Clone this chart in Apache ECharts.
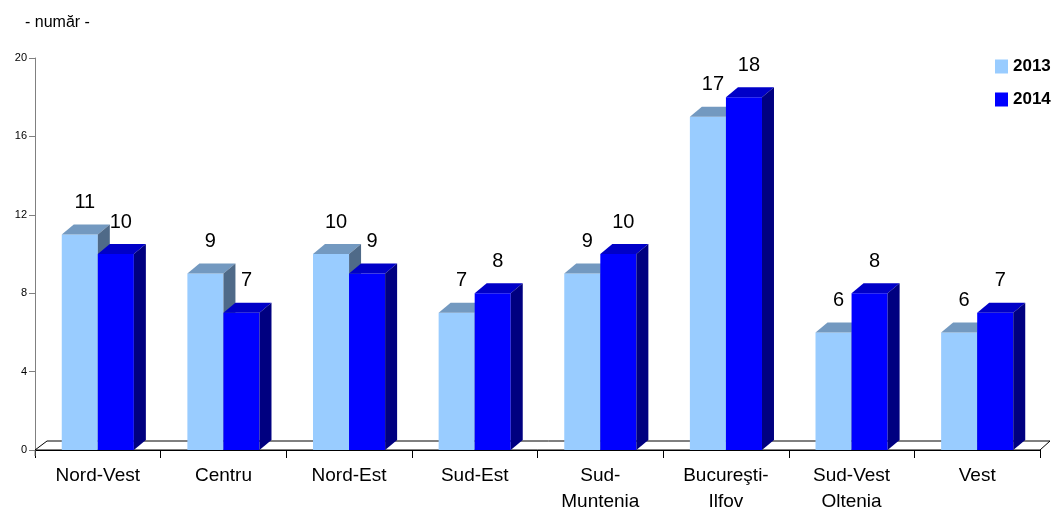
<!DOCTYPE html>
<html><head><meta charset="utf-8">
<script src="https://cdn.jsdelivr.net/npm/echarts@6/dist/echarts.min.js"></script>
<style>html,body{margin:0;padding:0;background:#fff}#c{width:1063px;height:510px}</style>
</head><body><div id="c"></div>
<script>
const categories = ['Nord-Vest','Centru','Nord-Est','Sud-Est','Sud-\nMuntenia','Bucureşti-\nIlfov','Sud-Vest\nOltenia','Vest'];
const values2013 = [11,9,10,7,9,17,6,6];
const values2014 = [10,7,9,8,10,18,8,7];
const seriesNames = ['2013','2014'];
const yMin = 0, yMax = 20, yInterval = 4;

const FONT = '"Liberation Sans", Arial, sans-serif';
const DX = 12, DY = 10;
const colors = {
  '2013': {front:'#99CCFF', top:'#7399C0', side:'#4F6A88'},
  '2014': {front:'#0000FF', top:'#0000C8', side:'#000080'}
};

function geom(api, sign){
  const ci = api.value(0), v = api.value(1);
  const top = api.coord([ci, v]);
  const base = api.coord([ci, 0]);
  const band = api.size([1, 0])[0];
  const w = band * 0.287;
  const x0 = sign < 0 ? top[0] - w : top[0];
  return {v, x0, x1: x0 + w, yt: top[1], yb: base[1]};
}

function barRenderer(sign, c){
  return function(params, api){
    const g = geom(api, sign);
    const {x0, x1, yt, yb} = g;
    return {
      type: 'group',
      children: [
        {type:'rect', shape:{x:x0, y:yt, width:x1-x0, height:yb-yt}, style:{fill:c.front}},
        {type:'polygon', shape:{points:[[x0,yt],[x0+DX,yt-DY],[x1+DX,yt-DY],[x1,yt]]}, style:{fill:c.top}},
        {type:'polygon', shape:{points:[[x1,yt],[x1+DX,yt-DY],[x1+DX,yb-DY],[x1,yb]]}, style:{fill:c.side}}
      ]
    };
  };
}

function labelRenderer(sign){
  return function(params, api){
    const g = geom(api, sign);
    return {type:'text', style:{text:String(g.v), x:(g.x0+g.x1)/2+5, y:g.yt-DY-22,
      textAlign:'center', textVerticalAlign:'middle', font:'20px '+FONT, fill:'#000'}};
  };
}

function floorRenderer(params, api){
  const cs = params.coordSys;
  const x0 = cs.x, x1 = cs.x + cs.width, yb = cs.y + cs.height;
  return {
    type:'group',
    children:[
      {type:'polygon', shape:{points:[[x0,yb],[x0+DX,yb-9],[x1+DX-2,yb-9],[x1,yb]]},
        style:{fill:'#fff', stroke:'#000', lineWidth:1}},
      {type:'line', shape:{x1:x0, y1:yb, x2:x0, y2:yb+6}, style:{stroke:'#808080', lineWidth:1}}
    ]
  };
}

const chart = echarts.init(document.getElementById('c'));
chart.setOption({
  animation:false,
  backgroundColor:'#fff',
  textStyle:{fontFamily:FONT},
  title:{text:'- număr -', left:20, top:10, textStyle:{fontSize:16, fontWeight:'normal', color:'#000', fontFamily:FONT}},
  legend:{
    orient:'vertical', left:995, top:58, itemWidth:13, itemHeight:14, itemGap:16, padding:0,
    icon:'rect', data:seriesNames,
    textStyle:{fontSize:17, fontWeight:'bold', color:'#000', fontFamily:FONT}
  },
  grid:{left:35, right:23, top:58, bottom:60, containLabel:false, outerBoundsMode:'none'},
  xAxis:{
    type:'category', data:categories, boundaryGap:true,
    axisLine:{lineStyle:{color:'#000', width:1}},
    axisTick:{show:true, alignWithLabel:false, length:8, lineStyle:{color:'#000'}},
    axisLabel:{fontSize:19, color:'#000', margin:13, lineHeight:26, interval:0, fontFamily:FONT}
  },
  yAxis:{
    type:'value', min:yMin, max:yMax, interval:yInterval,
    axisLine:{show:true, lineStyle:{color:'#808080', width:1}},
    axisTick:{show:true, length:6, lineStyle:{color:'#808080'}},
    splitLine:{show:false},
    axisLabel:{fontSize:11, color:'#000', margin:8, fontFamily:FONT}
  },
  series:[
    {type:'custom', name:'floor', silent:true, renderItem:floorRenderer, data:[[0,0]], encode:{x:0,y:1}, z:1},
    {type:'custom', name:'2013', itemStyle:{color:colors['2013'].front}, renderItem:barRenderer(-1, colors['2013']),
      data:values2013.map((v,i)=>[i,v]), encode:{x:0,y:1}, z:2},
    {type:'custom', name:'2014', itemStyle:{color:colors['2014'].front}, renderItem:barRenderer(1, colors['2014']),
      data:values2014.map((v,i)=>[i,v]), encode:{x:0,y:1}, z:3},
    {type:'custom', name:'lbl2013', silent:true, renderItem:labelRenderer(-1),
      data:values2013.map((v,i)=>[i,v]), encode:{x:0,y:1}, z:10},
    {type:'custom', name:'lbl2014', silent:true, renderItem:labelRenderer(1),
      data:values2014.map((v,i)=>[i,v]), encode:{x:0,y:1}, z:10}
  ]
});
</script></body></html>
